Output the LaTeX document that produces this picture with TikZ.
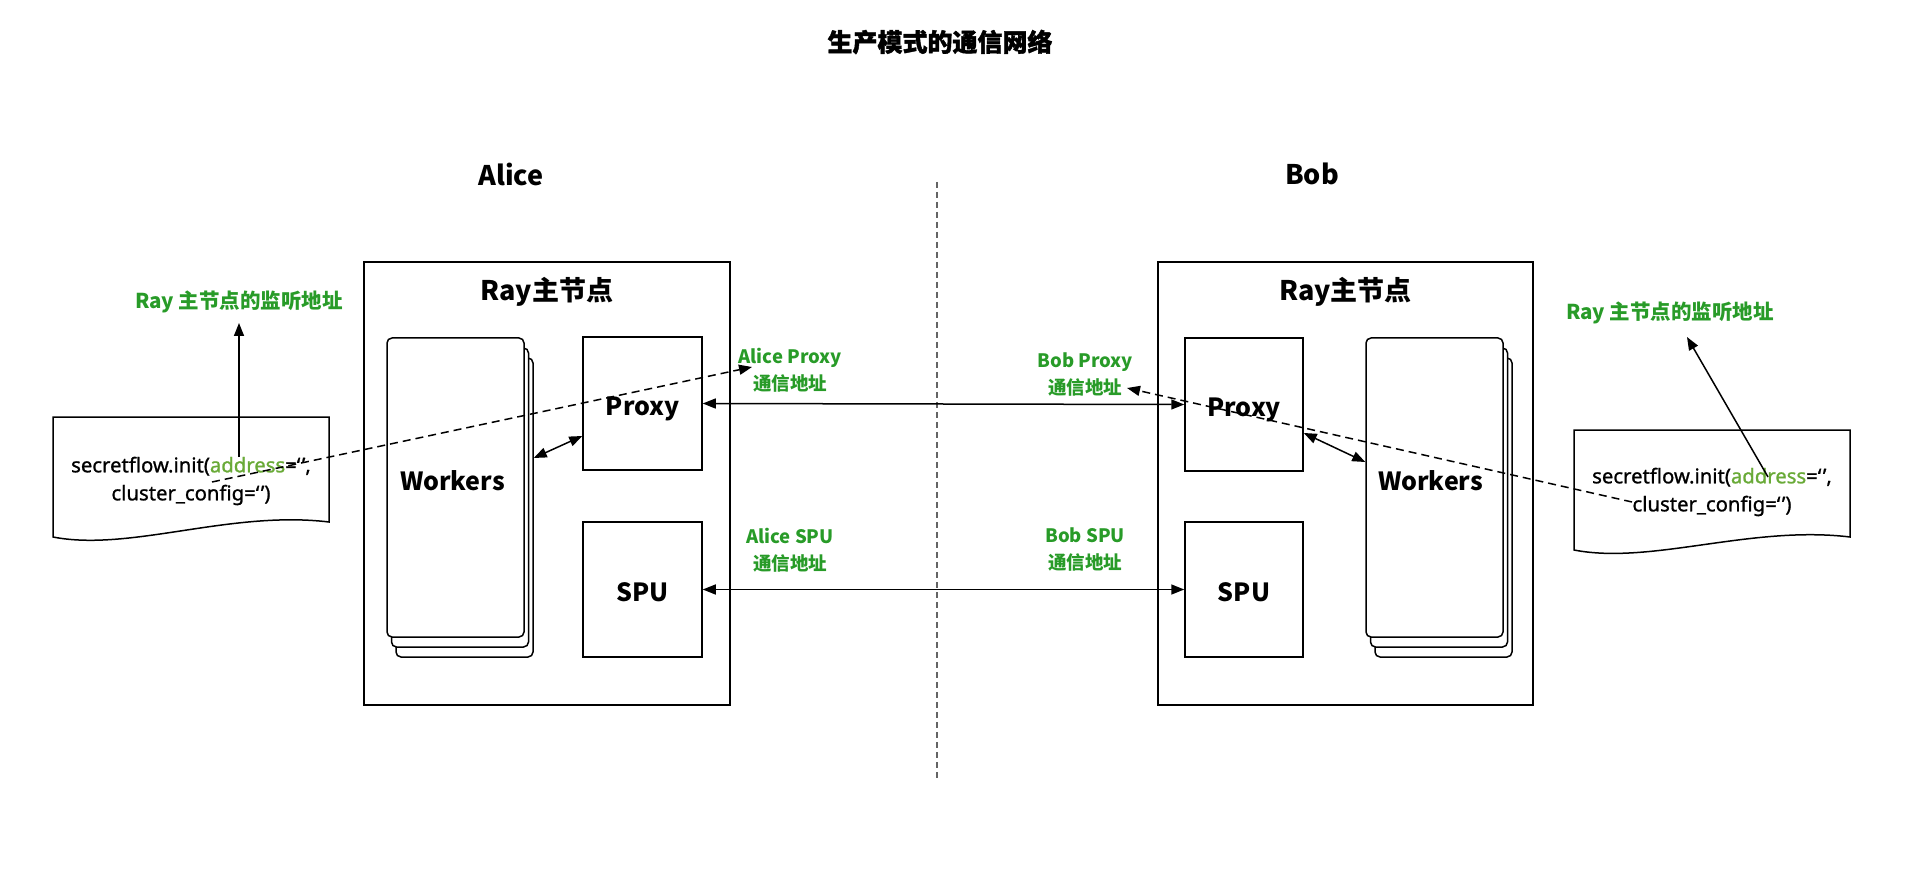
\documentclass[tikz,border=0pt]{standalone}
\usepackage{fontspec}
\setmainfont{Noto Sans CJK SC}
\newfontfamily\titlefont[BoldFeatures={FakeBold=1.6}]{Noto Sans CJK SC}
\newfontfamily\codefont[FakeBold=1]{Noto Sans}
\usetikzlibrary{arrows.meta}
\definecolor{labelgreen}{RGB}{40,155,40}
\definecolor{addrgreen}{RGB}{105,170,55}
\definecolor{divgray}{RGB}{100,100,100}
\newcommand{\emptyquotes}{‘\kern1.5pt’}
\tikzset{
  box/.style={draw, line width=1.5pt, fill=white, inner sep=0pt, text height=24pt, text depth=0pt, font=\fontsize{25}{30}\selectfont\bfseries},
  card/.style={draw, line width=1.5pt, fill=white, rounded corners=5pt, minimum width=137pt, minimum height=299pt, inner sep=0pt, font=\fontsize{25}{30}\selectfont\bfseries},
  party/.style={font=\fontsize{27}{32}\selectfont\bfseries},
  greenlabel/.style={text=labelgreen, align=center, font=\fontsize{18.5}{27}\selectfont\bfseries},
  listenlabel/.style={text=labelgreen, font=\fontsize{20.5}{27}\selectfont\bfseries},
  doctext/.style={align=center, font=\codefont\fontsize{20.3}{28}\selectfont},
  link/.style={line width=1.5pt, {Triangle[length=13pt,width=10pt]}-{Triangle[length=13pt,width=10pt]}},
  pointer/.style={line width=1.5pt, -{Triangle[length=13pt,width=10pt]}},
  dashpointer/.style={line width=1.5pt, dash pattern=on 8pt off 5pt, -{Triangle[length=13pt,width=10pt]}},
}
\begin{document}
\begin{tikzpicture}[x=1pt, y=-1pt]
\useasboundingbox (0,0) rectangle (1905,874);
\node[font=\titlefont\fontsize{25}{30}\selectfont\bfseries] (title) at (940,42) {生产模式的通信网络};
\node[party] (alice) at (511,174) {Alice};
\node[party] (bob) at (1312,174) {Bob};
\coordinate (divTop) at (937,182);
\coordinate (divBot) at (937,778);
\draw[divgray, line width=1.5pt, dash pattern=on 6pt off 4pt] (divTop) -- (divBot);

\node[box, minimum width=366pt, minimum height=443pt] (aliceHost) at (547,483.5) {};
\node[box, minimum width=375pt, minimum height=443pt] (bobHost) at (1345.5,483.5) {};
\node[party] (aliceRay) at (547,292) {Ray主节点};
\node[party] (bobRay) at (1345.5,292) {Ray主节点};

\node[card] (aliceCard2) at (464.5,507.5) {};
\node[card] (aliceCard1) at (460,497.5) {};
\node[card, label={[yshift=6.5pt, xshift=-3pt, font=\fontsize{25}{30}\selectfont\bfseries]center:Workers}] (aliceWorkers) at (455.5,487.5) {};
\node[card] (bobCard2) at (1443.5,507.5) {};
\node[card] (bobCard1) at (1439,497.5) {};
\node[card, label={[yshift=6.5pt, xshift=-4pt, font=\fontsize{25}{30}\selectfont\bfseries]center:Workers}] (bobWorkers) at (1434.5,487.5) {};

\node[box, minimum width=119pt, minimum height=133pt] (aliceProxy) at (642.5,403.5) {Proxy};
\node[box, minimum width=119pt, minimum height=135pt] (aliceSPU) at (642.5,589.5) {SPU};
\node[box, minimum width=118pt, minimum height=133pt] (bobProxy) at (1244,404.5) {Proxy};
\node[box, minimum width=118pt, minimum height=135pt] (bobSPU) at (1244,589.5) {SPU};

\draw[link] (aliceProxy.east) -- (bobProxy.west);
\draw[link] (aliceSPU.east) -- (bobSPU.west);
\draw[link] ([yshift=49.5pt]aliceCard2.east) -- ([yshift=-32.5pt]aliceProxy.west);
\draw[link] ([yshift=-28.5pt]bobProxy.east) -- ([yshift=25.5pt]bobWorkers.west);

\node[greenlabel] (aliceProxyAddr) at (790,370) {Alice Proxy\\通信地址};
\node[greenlabel] (bobProxyAddr) at (1085,375) {Bob Proxy\\通信地址};
\node[greenlabel] (aliceSPUAddr) at (790,550) {Alice SPU\\通信地址};
\node[greenlabel] (bobSPUAddr) at (1085,550) {Bob SPU\\通信地址};

\draw[line width=1.5pt, fill=white] (53,417) -- (329,417) -- (329,522) .. controls (230,510) and (130,552) .. (53,537) -- cycle;
\draw[line width=1.5pt, fill=white] (1574,430) -- (1850,430) -- (1850,537) .. controls (1751,525) and (1651,565) .. (1574,550) -- cycle;
\node[doctext] (aliceInit) at (191,481) {secretflow.init(\textcolor{addrgreen}{address}=\emptyquotes,\\cluster\_config=\emptyquotes)};
\node[doctext] (bobInit) at (1712,492) {secretflow.init(\textcolor{addrgreen}{address}=\emptyquotes,\\cluster\_config=\emptyquotes)};

\node[listenlabel] (aliceListen) at (239,302) {Ray 主节点的监听地址};
\node[listenlabel] (bobListen) at (1670,313) {Ray 主节点的监听地址};
\coordinate (aliceAddr) at (239,457);
\coordinate (bobAddr) at (1768,477);
\draw[pointer] (aliceAddr) -- ([yshift=-21pt]aliceListen.center);
\draw[pointer] (bobAddr) -- ([xshift=17pt,yshift=-24pt]bobListen.center);

\coordinate (aliceInitAddr) at (212,482);
\coordinate (bobInitAddr) at (1632,502);
\draw[dashpointer] (aliceInitAddr) -- ([xshift=-38pt,yshift=3pt]aliceProxyAddr.center);
\draw[dashpointer] (bobInitAddr) -- ([xshift=42pt,yshift=-13pt]bobProxyAddr.center);
\end{tikzpicture}
\end{document}
